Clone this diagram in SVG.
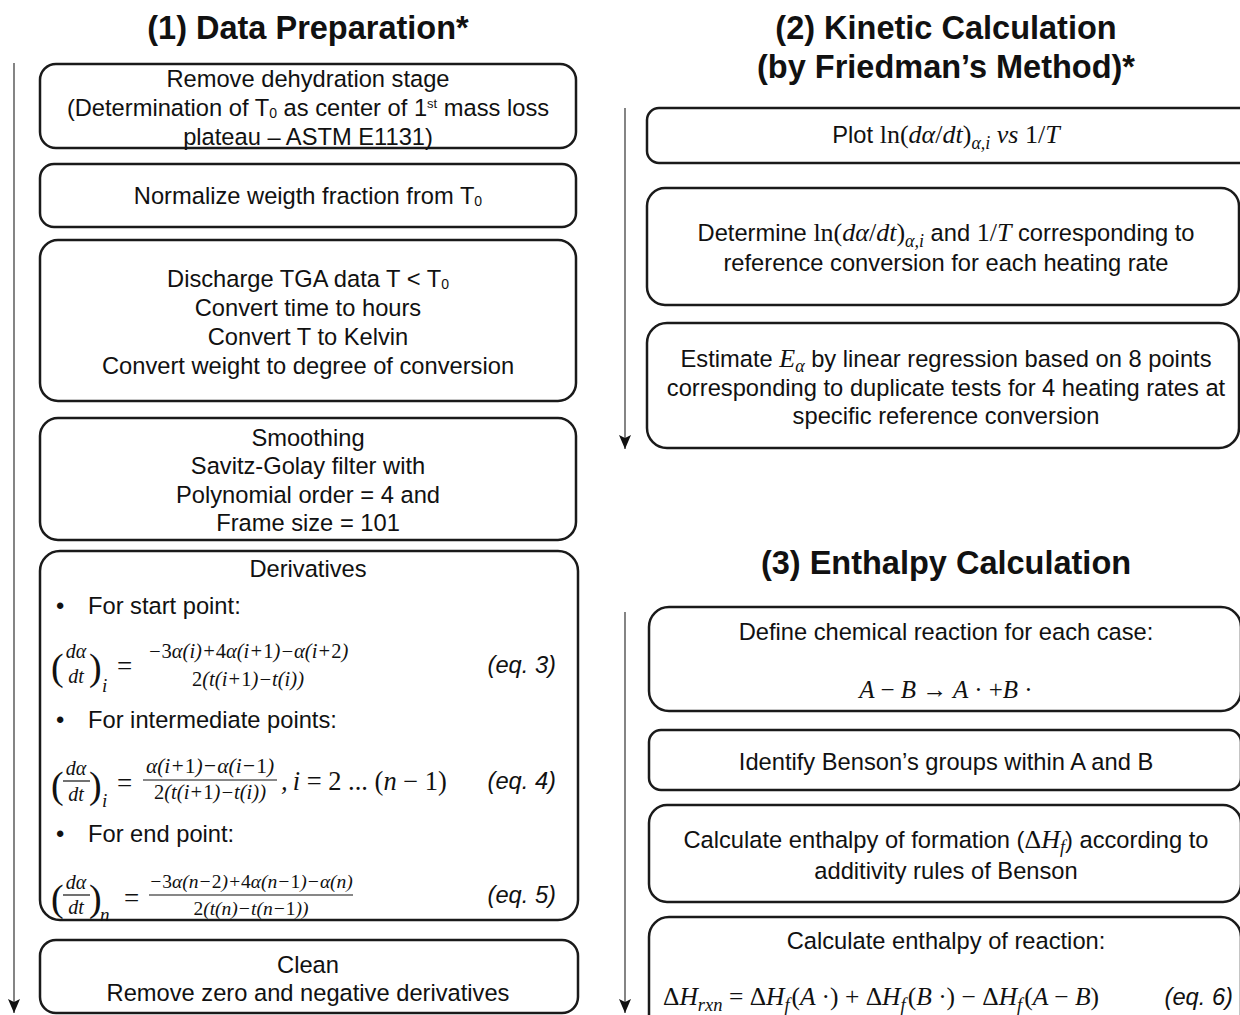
<svg xmlns="http://www.w3.org/2000/svg" width="1240" height="1015" viewBox="0 0 1240 1015">
<style>
.box{fill:#fff;stroke:#1a1a1a;stroke-width:2.5}
.t{font-family:"Liberation Sans",Arial,sans-serif;font-size:23.7px;fill:#111}
.c{text-anchor:middle}
.h{font-family:"Liberation Sans",Arial,sans-serif;font-size:32.5px;font-weight:bold;fill:#111;text-anchor:middle}
.m{font-family:"Liberation Serif","Times New Roman",serif;font-style:italic;fill:#111}
.r{font-style:normal}
.eq{font-family:"Liberation Sans",Arial,sans-serif;font-style:italic;font-size:23.7px;fill:#111;text-anchor:end}
.ln{stroke:#666;stroke-width:1.6;fill:none}
.bar{stroke:#111;stroke-width:1.2}
</style>
<defs>
<marker id="ah" viewBox="0 0 14 12" markerWidth="14" markerHeight="12" refX="14" refY="6" orient="auto" markerUnits="userSpaceOnUse">
<path d="M0,0 L14,6 L0,12 L3,6 z" fill="#111"/>
</marker>
</defs>

<g id="titles">
<text class="h" x="308" y="39">(1) Data Preparation*</text>
<text class="h" x="946" y="39">(2) Kinetic Calculation</text>
<text class="h" x="946" y="78">(by Friedman’s Method)*</text>
<text class="h" x="946" y="574">(3) Enthalpy Calculation</text>
</g>

<g id="connectors">
<line class="ln" x1="14" y1="63" x2="14" y2="1013" marker-end="url(#ah)"/>
<line class="ln" x1="625" y1="108" x2="625" y2="449" marker-end="url(#ah)"/>
<line class="ln" x1="625" y1="612" x2="625" y2="1013" marker-end="url(#ah)"/>
</g>

<g id="n1">
<rect class="box" x="40" y="64" width="536" height="84" rx="16"/>
<text class="t c" x="308" y="87">Remove dehydration stage</text>
<text class="t c" x="308" y="116">(Determination of T<tspan font-size="14" dy="2">0</tspan><tspan dy="-2"> as center of 1</tspan><tspan font-size="13" dy="-8">st</tspan><tspan dy="8"> mass loss</tspan></text>
<text class="t c" x="308" y="145">plateau – ASTM E1131)</text>
</g>

<g id="n2">
<rect class="box" x="40" y="164" width="536" height="63" rx="14"/>
<text class="t c" x="308" y="204">Normalize weigth fraction from T<tspan font-size="14" dy="2">0</tspan></text>
</g>

<g id="n3">
<rect class="box" x="40" y="240" width="536" height="161" rx="18"/>
<text class="t c" x="308" y="287">Discharge TGA data T &lt; T<tspan font-size="14" dy="2">0</tspan></text>
<text class="t c" x="308" y="316">Convert time to hours</text>
<text class="t c" x="308" y="345">Convert T to Kelvin</text>
<text class="t c" x="308" y="374">Convert weight to degree of conversion</text>
</g>

<g id="n4">
<rect class="box" x="40" y="418" width="536" height="122" rx="18"/>
<text class="t c" x="308" y="446">Smoothing</text>
<text class="t c" x="308" y="474">Savitz-Golay filter with</text>
<text class="t c" x="308" y="503">Polynomial order = 4 and</text>
<text class="t c" x="308" y="531">Frame size = 101</text>
</g>

<g id="n5">
<rect class="box" x="40" y="551" width="538" height="369" rx="20"/>
<text class="t c" x="308" y="577">Derivatives</text>
<text class="t" x="56" y="614">•</text>
<text class="t" x="88" y="614">For start point:</text>
<!-- eq 3 -->
<text class="m r" x="51" y="680" font-size="38">(</text>
<text class="m" x="76" y="658" font-size="20" text-anchor="middle">dα</text>
<text class="m" x="76" y="683" font-size="20" text-anchor="middle">dt</text>
<text class="m r" x="89" y="680" font-size="38">)</text>
<text class="m" x="102" y="692" font-size="19">i</text>
<text class="m r" x="117" y="675" font-size="27">=</text>
<text class="m" x="248" y="658" font-size="20.5" text-anchor="middle">−<tspan class="r">3</tspan>α(i)+<tspan class="r">4</tspan>α(i+<tspan class="r">1</tspan>)−α(i+<tspan class="r">2</tspan>)</text>
<text class="m" x="248" y="686" font-size="20.5" text-anchor="middle"><tspan class="r">2</tspan>(t(i+<tspan class="r">1</tspan>)−t(i))</text>
<text class="eq" x="556" y="673">(eq. 3)</text>

<text class="t" x="56" y="728">•</text>
<text class="t" x="88" y="728">For intermediate points:</text>
<!-- eq 4 -->
<text class="m r" x="51" y="798" font-size="38">(</text>
<text class="m" x="76" y="775" font-size="20" text-anchor="middle">dα</text>
<line class="bar" x1="63" y1="781" x2="90" y2="781"/>
<text class="m" x="76" y="801" font-size="20" text-anchor="middle">dt</text>
<text class="m r" x="89" y="798" font-size="38">)</text>
<text class="m" x="102" y="807" font-size="19">i</text>
<text class="m r" x="117" y="792" font-size="27">=</text>
<text class="m" x="210" y="773" font-size="21.5" text-anchor="middle">α(i+<tspan class="r">1</tspan>)−α(i−<tspan class="r">1</tspan>)</text>
<line class="bar" x1="143" y1="780" x2="277" y2="780"/>
<text class="m" x="210" y="799" font-size="20.5" text-anchor="middle"><tspan class="r">2</tspan>(t(i+<tspan class="r">1</tspan>)−t(i))</text>
<text class="m" x="281" y="790" font-size="26.5">,<tspan dx="5">i</tspan><tspan class="r"> = 2 ... (</tspan>n<tspan class="r"> − 1)</tspan></text>
<text class="eq" x="556" y="789">(eq. 4)</text>

<text class="t" x="56" y="842">•</text>
<text class="t" x="88" y="842">For end point:</text>
<!-- eq 5 -->
<text class="m r" x="51" y="911" font-size="38">(</text>
<text class="m" x="76" y="889" font-size="20" text-anchor="middle">dα</text>
<line class="bar" x1="63" y1="895" x2="90" y2="895"/>
<text class="m" x="76" y="914" font-size="20" text-anchor="middle">dt</text>
<text class="m r" x="89" y="911" font-size="38">)</text>
<text class="m" x="100" y="921" font-size="19">n</text>
<text class="m r" x="124" y="907" font-size="27">=</text>
<text class="m" x="251" y="888" font-size="19.5" text-anchor="middle">−<tspan class="r">3</tspan>α(n−<tspan class="r">2</tspan>)+<tspan class="r">4</tspan>α(n−<tspan class="r">1</tspan>)−α(n)</text>
<line class="bar" x1="149" y1="895" x2="353" y2="895"/>
<text class="m" x="251" y="915" font-size="19.5" text-anchor="middle"><tspan class="r">2</tspan>(t(n)−t(n−<tspan class="r">1</tspan>))</text>
<text class="eq" x="556" y="903">(eq. 5)</text>
</g>

<g id="n6">
<rect class="box" x="40" y="940" width="538" height="73" rx="16"/>
<text class="t c" x="308" y="973">Clean</text>
<text class="t c" x="308" y="1001">Remove zero and negative derivatives</text>
</g>

<g id="k1">
<rect class="box" x="647" y="108" width="610" height="55" rx="12"/>
<text class="t c" x="946" y="143">Plot <tspan class="m r" font-size="26">ln(</tspan><tspan class="m" font-size="26">dα</tspan><tspan class="m r" font-size="26">/</tspan><tspan class="m" font-size="26">dt</tspan><tspan class="m r" font-size="26">)</tspan><tspan class="m" font-size="18" dy="6">α,i</tspan><tspan class="m" font-size="26" dy="-6"> vs </tspan><tspan class="m r" font-size="26">1/</tspan><tspan class="m" font-size="26">T</tspan></text>
</g>

<g id="k2">
<rect class="box" x="647" y="188" width="592" height="117" rx="18"/>
<text class="t c" x="946" y="241">Determine <tspan class="m r" font-size="26">ln(</tspan><tspan class="m" font-size="26">dα</tspan><tspan class="m r" font-size="26">/</tspan><tspan class="m" font-size="26">dt</tspan><tspan class="m r" font-size="26">)</tspan><tspan class="m" font-size="18" dy="6">α,i</tspan><tspan dy="-6"> and </tspan><tspan class="m r" font-size="26">1/</tspan><tspan class="m" font-size="26">T</tspan> corresponding to</text>
<text class="t c" x="946" y="271">reference conversion for each heating rate</text>
</g>

<g id="k3">
<rect class="box" x="647" y="323" width="592" height="125" rx="20"/>
<text class="t c" x="946" y="367">Estimate <tspan class="m" font-size="26">E</tspan><tspan class="m" font-size="18" dy="5">α</tspan><tspan dy="-5"> by linear regression based on 8 points</tspan></text>
<text class="t c" x="946" y="396">corresponding to duplicate tests for 4 heating rates at</text>
<text class="t c" x="946" y="424">specific reference conversion</text>
</g>

<g id="e1">
<rect class="box" x="649" y="607" width="592" height="104" rx="20"/>
<text class="t c" x="946" y="640">Define chemical reaction for each case:</text>
<text class="m c" x="946" y="698" font-size="25">A <tspan class="r">−</tspan> B <tspan class="r"> →</tspan> A <tspan class="r">·</tspan> <tspan class="r">+</tspan>B <tspan class="r">·</tspan></text>
</g>

<g id="e2">
<rect class="box" x="649" y="730" width="592" height="60" rx="12"/>
<text class="t c" x="946" y="770">Identify Benson’s groups within A and B</text>
</g>

<g id="e3">
<rect class="box" x="649" y="805" width="592" height="97" rx="18"/>
<text class="t c" x="946" y="848">Calculate enthalpy of formation (<tspan class="m r" font-size="26">Δ</tspan><tspan class="m" font-size="26">H</tspan><tspan class="m" font-size="18" dy="5">f</tspan><tspan dy="-5">) according to</tspan></text>
<text class="t c" x="946" y="879">additivity rules of Benson</text>
</g>

<g id="e4">
<rect class="box" x="649" y="917" width="592" height="120" rx="20"/>
<text class="t c" x="946" y="949">Calculate enthalpy of reaction:</text>
<text class="m" x="663" y="1005" font-size="25.5"><tspan class="r">Δ</tspan>H<tspan font-size="18.5" dy="6">rxn</tspan><tspan class="r" dy="-6"> = Δ</tspan>H<tspan font-size="18.5" dy="6">f</tspan><tspan class="r" dy="-6" dx="2">(</tspan>A <tspan class="r">·) + Δ</tspan>H<tspan font-size="18.5" dy="6">f</tspan><tspan class="r" dy="-6" dx="2">(</tspan>B <tspan class="r">·) −  Δ</tspan>H<tspan font-size="18.5" dy="6">f</tspan><tspan class="r" dy="-6" dx="2">(</tspan>A <tspan class="r">−</tspan> B<tspan class="r">)</tspan></text>
<text class="eq" x="1233" y="1005">(eq. 6)</text>
</g>
</svg>
